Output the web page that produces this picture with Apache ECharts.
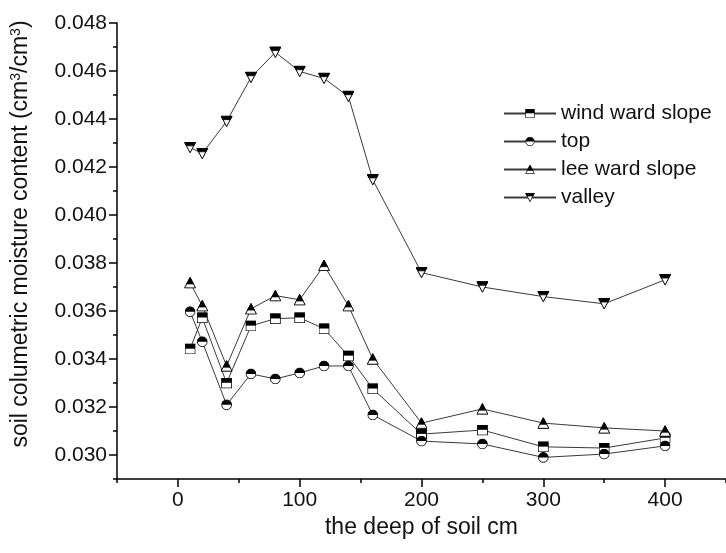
<!DOCTYPE html>
<html>
<head>
<meta charset="utf-8">
<script src="https://cdn.jsdelivr.net/npm/echarts@6/dist/echarts.min.js"></script>
<style>html,body{margin:0;padding:0;background:#fff}#c{width:726px;height:553px}</style>
</head>
<body>
<div id="c"></div>
<script>
var depths = [10, 20, 40, 60, 80, 100, 120, 140, 160, 200, 250, 300, 350, 400];
var windWard = [0.03442, 0.03572, 0.03300, 0.03538, 0.03568, 0.03572, 0.03526, 0.03413, 0.03276, 0.03087, 0.03104, 0.03034, 0.03029, 0.03071];
var topSite = [0.03597, 0.03472, 0.03209, 0.03338, 0.03317, 0.03342, 0.03371, 0.03371, 0.03167, 0.03058, 0.03046, 0.02990, 0.03004, 0.03038];
var leeWard = [0.03718, 0.03622, 0.03371, 0.03609, 0.03664, 0.03647, 0.03790, 0.03622, 0.03400, 0.03133, 0.03192, 0.03133, 0.03113, 0.03100];
var valley = [0.04281, 0.04256, 0.04390, 0.04573, 0.04678, 0.04598, 0.04569, 0.04494, 0.04147, 0.03760, 0.03700, 0.03660, 0.03630, 0.03730];
var seriesNames = ['wind ward slope', 'top', 'lee ward slope', 'valley'];

function svgSym(inner) {
  var svg = '<svg xmlns="http://www.w3.org/2000/svg" width="48" height="48" viewBox="0 0 48 48">' + inner + '</svg>';
  return 'image://data:image/svg+xml;charset=utf-8,' + encodeURIComponent(svg);
}
var symSquare = svgSym('<rect x="2" y="2" width="44" height="44" fill="#fff" stroke="#000" stroke-width="4"/><rect x="2" y="2" width="44" height="21" fill="#000"/>');
var symCircle = svgSym('<circle cx="24" cy="24" r="21.5" fill="#fff" stroke="#000" stroke-width="4"/><path d="M2.5,24 A21.5,21.5 0 0 1 45.5,24 Z" fill="#000"/>');
var symUp = svgSym('<polygon points="24,3 46,45 2,45" fill="#fff" stroke="#000" stroke-width="4" stroke-linejoin="miter"/><polygon points="24,3 37.6,29 10.4,29" fill="#000" stroke="#000" stroke-width="3"/>');
var symDown = svgSym('<polygon points="2,3 46,3 24,45" fill="#fff" stroke="#000" stroke-width="4" stroke-linejoin="miter"/><polygon points="2,3 46,3 38.7,17 9.3,17" fill="#000" stroke="#000" stroke-width="3"/>');

function pairs(vals) {
  return depths.map(function (d, i) { return [d, vals[i]]; });
}
var FONT = "'Liberation Sans', Arial, sans-serif";
var allVals = [windWard, topSite, leeWard, valley];
var syms = [symSquare, symCircle, symUp, symDown];
var sizes = [11, 11, 12, 12];

var series = allVals.map(function (v, k) {
  return {
    name: seriesNames[k],
    type: 'line',
    xAxisIndex: 0,
    yAxisIndex: 0,
    data: pairs(v),
    symbol: syms[k],
    symbolSize: sizes[k],
    showAllSymbol: true,
    lineStyle: { color: '#3a3a3a', width: 1 },
    itemStyle: { color: '#3a3a3a' },
    emphasis: { disabled: true }
  };
});

var chart = echarts.init(document.getElementById('c'), null, { renderer: 'canvas' });
chart.setOption({
  animation: false,
  backgroundColor: '#fff',
  textStyle: { fontFamily: FONT },
  grid: { left: 117, top: 23, width: 614, height: 456, containLabel: false },
  legend: {
    orient: 'vertical',
    left: 498,
    top: 98,
    itemWidth: 52,
    itemHeight: 12,
    itemGap: 7,
    data: seriesNames,
    textStyle: { fontFamily: FONT, fontSize: 21, color: '#111' },
    inactiveColor: '#3a3a3a'
  },
  xAxis: [
    {
      type: 'value', min: -50, max: 450, interval: 50, position: 'bottom',
      axisLine: { show: true, onZero: false, lineStyle: { color: '#000', width: 1.5 } },
      axisTick: { show: true, inside: false, length: 4, lineStyle: { color: '#000', width: 1.5 } },
      axisLabel: { show: false },
      splitLine: { show: false }
    },
    {
      type: 'value', min: -50, max: 450, position: 'bottom', offset: 0,
      axisLine: { show: false, onZero: false },
      axisTick: { show: true, inside: false, length: 8, lineStyle: { color: '#000', width: 1.5 } },
      axisLabel: { show: true, margin: 11, fontSize: 21, color: '#111', fontFamily: FONT, showMinLabel: false, showMaxLabel: false },
      splitLine: { show: false },
      name: 'the deep of soil cm',
      nameLocation: 'middle',
      nameGap: 34,
      nameTextStyle: { fontSize: 23, color: '#111', fontFamily: FONT }
    }
  ],
  yAxis: [
    {
      type: 'value', min: 0.029, max: 0.048, interval: 0.001, position: 'left',
      axisLine: { show: true, onZero: false, lineStyle: { color: '#000', width: 1.5 } },
      axisTick: { show: true, inside: false, length: 4, lineStyle: { color: '#000', width: 1.5 } },
      axisLabel: { show: false },
      splitLine: { show: false }
    },
    {
      type: 'value', min: 0.029, max: 0.048, splitNumber: 9, position: 'left', offset: 0,
      axisLine: { show: false, onZero: false },
      axisTick: { show: true, inside: false, length: 8, lineStyle: { color: '#000', width: 1.5 } },
      axisLabel: {
        show: true, margin: 10, fontSize: 21, color: '#111', fontFamily: FONT, showMinLabel: false,
        formatter: function (v) { return v.toFixed(3); }
      },
      splitLine: { show: false },
      name: '{a|soil columetric moisture content (cm}{s|3}{a|/cm}{s|3}{a|)}',
      nameLocation: 'middle',
      nameGap: 85,
      nameTextStyle: {
        color: '#111', fontFamily: FONT,
        padding: [0, 0, 0, 34],
        rich: {
          a: { fontSize: 23, color: '#111', fontFamily: FONT, verticalAlign: 'bottom' },
          s: { fontSize: 14, color: '#111', fontFamily: FONT, verticalAlign: 'top' }
        }
      }
    }
  ],
  series: series
});
</script>
</body>
</html>
